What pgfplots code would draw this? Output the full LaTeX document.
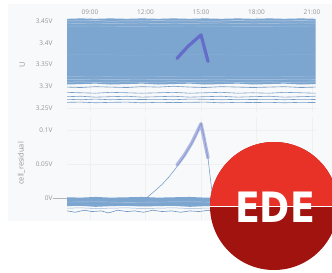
\documentclass[border=0pt]{standalone}
\usepackage{pgfplots}
\pgfplotsset{compat=1.18}
\usepackage{fontspec}
\setmainfont{Open Sans}
\definecolor{bandblue}{RGB}{124,165,207}
\definecolor{lineblue}{RGB}{118,157,200}
\definecolor{darkline}{RGB}{110,148,192}
\definecolor{purp}{RGB}{96,100,200}
\definecolor{tickgray}{RGB}{150,150,150}
\definecolor{panelbg}{RGB}{248,249,250}
\definecolor{edered}{RGB}{232,49,39}
\definecolor{ededark}{RGB}{160,19,15}
\begin{document}
\begin{tikzpicture}
\path[use as bounding box] (0,0) rectangle (332bp,-273bp);
\fill[white] (0,0) rectangle (332bp,-273bp);
\fill[panelbg] (8bp,-4bp) rectangle (332bp,-221bp);
\pgfplotsset{
  every axis/.append style={
    scale only axis, width=249bp,
    xmin=7.757, xmax=21.216,
    axis line style={draw=none},
    tick style={draw=none},
    grid=major, major grid style={gray!12, line width=0.4bp},
    tick label style={font=\fontsize{6.5}{7}\selectfont, text=tickgray},
    label style={font=\fontsize{7.5}{8}\selectfont, text=tickgray},
    /pgf/number format/assume math mode=true,
    clip=true,
  }
}
% ---------- top axis ----------
\begin{axis}[
  at={(67bp,-17bp)}, anchor=north west, height=95bp,
  ymin=3.2408, ymax=3.4592,
  xtick={9,12,15,18,21}, xticklabels={09:00,12:00,15:00,18:00,21:00},
  xticklabel pos=upper, xticklabel style={yshift=-1bp},
  ytick={3.25,3.3,3.35,3.4,3.45},
  yticklabels={3.25V,3.3V,3.35V,3.4V,3.45V},
  yticklabel style={xshift=-11bp},
  ylabel={U}, ylabel style={at={(axis description cs:-0.155,0.5)}},
]
% dense band
\addplot[fill=bandblue, draw=none] coordinates {
(7.76,3.455)(8.5,3.456)(9.3,3.455)(10.1,3.456)(11,3.455)(11.8,3.456)(12.7,3.455)(13.5,3.456)(14.4,3.455)(15.2,3.456)(16.1,3.455)(17,3.456)(17.8,3.455)(18.7,3.456)(19.5,3.455)(20.4,3.456)(21.2,3.455)
(21.2,3.305)(20.4,3.304)(19.5,3.306)(18.7,3.305)(17.8,3.304)(17,3.306)(16.1,3.305)(15.2,3.304)(14.4,3.306)(13.5,3.305)(12.7,3.304)(11.8,3.306)(11,3.305)(10.1,3.304)(9.3,3.306)(8.5,3.305)(7.76,3.304)} -- cycle;
% light streaks
\addplot[white, opacity=0.55, line width=0.5bp] coordinates {
(7.76,3.4505)(8.5,3.450)(9.3,3.451)(10.1,3.4495)(11,3.4505)(11.8,3.450)(12.7,3.451)(13.5,3.450)(14.4,3.4505)(15.2,3.4495)(16.1,3.450)(17,3.451)(17.8,3.450)(18.7,3.4505)(19.5,3.450)(20.4,3.451)(21.2,3.450)};
\addplot[white, opacity=0.4, line width=0.5bp] coordinates {
(7.76,3.445)(8.5,3.4445)(9.3,3.4455)(10.1,3.444)(11,3.445)(11.8,3.4455)(12.7,3.444)(13.5,3.445)(14.4,3.4445)(15.2,3.445)(16.1,3.4455)(17,3.444)(17.8,3.445)(18.7,3.4445)(19.5,3.445)(20.4,3.4455)(21.2,3.445)};
\addplot[white, opacity=0.3, line width=0.4bp] coordinates {
(7.76,3.438)(9.3,3.4385)(11,3.4375)(12.7,3.438)(14.4,3.4385)(16.1,3.438)(17.8,3.4375)(19.5,3.438)(21.2,3.4385)};
\addplot[white, opacity=0.15, line width=0.4bp] coordinates {
(7.76,3.372)(9.3,3.3725)(11,3.3715)(12.7,3.372)(14.4,3.3725)(16.1,3.372)(17.8,3.3715)(19.5,3.372)(21.2,3.3725)};
\addplot[white, opacity=0.4, line width=0.5bp] coordinates {
(7.76,3.316)(8.5,3.3155)(9.3,3.3165)(10.1,3.315)(11,3.316)(11.8,3.3165)(12.7,3.315)(13.5,3.316)(14.4,3.3155)(15.2,3.316)(16.1,3.3165)(17,3.315)(17.8,3.316)(18.7,3.3155)(19.5,3.316)(20.4,3.3165)(21.2,3.316)};
\addplot[white, opacity=0.5, line width=0.5bp] coordinates {
(7.76,3.3095)(8.5,3.310)(9.3,3.309)(10.1,3.3095)(11,3.310)(11.8,3.309)(12.7,3.3095)(13.5,3.310)(14.4,3.309)(15.2,3.3095)(16.1,3.310)(17,3.309)(17.8,3.3095)(18.7,3.310)(19.5,3.309)(20.4,3.3095)(21.2,3.310)};
\addplot[white, opacity=0.25, line width=0.4bp] coordinates {
(7.76,3.322)(9.3,3.3225)(11,3.3215)(12.7,3.322)(14.4,3.3225)(16.1,3.322)(17.8,3.3215)(19.5,3.322)(21.2,3.3225)};
% separate lines below band
\addplot[lineblue, line width=0.6bp] coordinates {
(7.76,3.298)(8.5,3.297)(9.3,3.299)(10.1,3.298)(11,3.297)(11.8,3.299)(12.7,3.298)(13.5,3.300)(14.4,3.298)(15.2,3.297)(16.1,3.299)(17,3.298)(17.8,3.297)(18.7,3.298)(19.5,3.299)(20.4,3.297)(21.2,3.298)};
\addplot[lineblue, line width=0.6bp] coordinates {
(7.76,3.286)(8.5,3.285)(9.3,3.284)(10.1,3.286)(11,3.285)(11.8,3.284)(12.7,3.285)(13.5,3.286)(14.4,3.284)(15.2,3.285)(16.1,3.286)(17,3.284)(17.8,3.285)(18.7,3.284)(19.5,3.286)(20.4,3.285)(21.2,3.284)};
\addplot[lineblue, line width=0.6bp] coordinates {
(7.76,3.276)(8.5,3.277)(9.3,3.275)(10.1,3.276)(11,3.277)(11.8,3.275)(12.7,3.276)(13.5,3.277)(14.4,3.275)(15.2,3.276)(16.1,3.277)(17,3.275)(17.8,3.276)(18.7,3.277)(19.5,3.275)(20.4,3.276)(21.2,3.277)};
\addplot[lineblue, line width=0.6bp] coordinates {
(7.76,3.270)(8.5,3.269)(9.3,3.2705)(10.1,3.269)(11,3.270)(11.8,3.2695)(12.7,3.270)(13.5,3.269)(14.4,3.2705)(15.2,3.270)(16.1,3.269)(17,3.270)(17.8,3.2695)(18.7,3.270)(19.5,3.269)(20.4,3.270)(21.2,3.2695)};
\addplot[lineblue, line width=0.6bp] coordinates {
(7.76,3.263)(8.5,3.2635)(9.3,3.262)(10.1,3.263)(11,3.2635)(11.8,3.262)(12.7,3.263)(13.5,3.2625)(14.4,3.263)(15.2,3.2635)(16.1,3.262)(17,3.263)(17.8,3.2625)(18.7,3.263)(19.5,3.262)(20.4,3.263)(21.2,3.2625)};
% highlighted series
\addplot[purp, opacity=0.85, line width=3.2bp, line join=round, line cap=round] coordinates {
(13.70,3.364)(14.3,3.392)(15.0,3.418)(15.38,3.357)};
\end{axis}
% ---------- bottom axis ----------
\begin{axis}[
  at={(67bp,-117bp)}, anchor=north west, height=103bp,
  ymin=-0.0324, ymax=0.1191,
  xtick={9,12,15,18,21}, xticklabels={},
  ytick={0,0.05,0.1}, yticklabels={0V,0.05V,0.1V},
  yticklabel style={xshift=-11bp},
  extra y ticks={0}, extra y tick labels={},
  extra y tick style={tick style={draw=tickgray!70, line width=0.5bp}, major tick length=14bp, tickpos=left, tick align=outside},
  ylabel={cell\_residual}, ylabel style={at={(axis description cs:-0.155,0.55)}},
]
\addplot[fill=bandblue, draw=none] coordinates {
(7.76,0.001)(8.5,0.0005)(9.3,0.0015)(10.1,0.0005)(11,0.001)(11.8,0.0015)(12.7,0.0005)(13.5,0.001)(14.4,0.0015)(15.2,0.0005)(16.1,0.001)(17,0.0015)(17.8,0.0005)(18.7,0.001)(19.5,0.0015)(20.4,0.0005)(21.2,0.001)
(21.2,-0.012)(20.4,-0.0125)(19.5,-0.0115)(18.7,-0.013)(17.8,-0.012)(17,-0.0115)(16.1,-0.0125)(15.2,-0.012)(14.4,-0.013)(13.5,-0.0115)(12.7,-0.012)(11.8,-0.0125)(11,-0.0115)(10.1,-0.012)(9.3,-0.013)(8.5,-0.0115)(7.76,-0.012)} -- cycle;
\addplot[white, opacity=0.4, line width=0.4bp] coordinates {
(7.76,-0.006)(9.3,-0.0055)(11,-0.0065)(12.7,-0.006)(14.4,-0.0055)(16.1,-0.0065)(17.8,-0.006)(19.5,-0.0055)(21.2,-0.006)};
\addplot[lineblue!70, line width=0.5bp] coordinates {
(7.76,-0.015)(8.5,-0.0145)(9.3,-0.0155)(10.1,-0.015)(11,-0.0145)(11.8,-0.0155)(12.7,-0.015)(13.5,-0.0145)(14.4,-0.0155)(15.2,-0.015)(16.1,-0.0145)(17,-0.0155)(17.8,-0.015)(18.7,-0.0145)(19.5,-0.0155)(20.4,-0.015)(21.2,-0.0145)};
\addplot[darkline, line width=0.6bp] coordinates {
(7.76,-0.019)(8.2,-0.021)(8.7,-0.018)(9.1,-0.020)(9.6,-0.019)(10.0,-0.022)(10.5,-0.018)(11,-0.020)(11.4,-0.019)(11.9,-0.021)(12.4,-0.018)(12.9,-0.020)(13.4,-0.019)(13.9,-0.021)(14.4,-0.019)(14.9,-0.020)(15.4,-0.018)(15.9,-0.021)(16.4,-0.019)(17,-0.020)(17.6,-0.019)(18.2,-0.021)(18.8,-0.019)(19.4,-0.020)(20,-0.019)(20.6,-0.021)(21.2,-0.019)};
% rising line
\addplot[purp, opacity=0.45, line width=3.4bp, line join=round, line cap=round] coordinates {
(13.70,0.0485)(14.1,0.063)(14.5,0.081)(15.0,0.109)(15.38,0.059)};
\addplot[lineblue, line width=0.55bp] coordinates {
(12.05,0.0)(12.4,0.008)(12.9,0.020)(13.3,0.032)(13.7,0.046)(14.1,0.062)(14.5,0.080)(14.8,0.096)(15.0,0.110)(15.2,0.085)(15.38,0.058)(15.5,0.030)(15.6,0.008)(15.7,0.0)};
\end{axis}
% ---------- logo ----------
\begin{scope}
\clip (0,0) rectangle (332bp,-273bp);
\fill[ededark] (274bp,-206bp) circle (64bp);
\begin{scope}
\clip (200bp,-130bp) rectangle (340bp,-206.5bp);
\fill[edered] (274bp,-206bp) circle (64bp);
\end{scope}
\draw[white, line width=0.8bp] (210bp,-206.5bp) -- (338bp,-206.5bp);
\node[text=white, font=\fontspec{DejaVu Sans}\bfseries\fontsize{42}{42}\selectfont, inner sep=0pt, xscale=0.87] at (275bp,-207bp) {EDE};
\end{scope}
\end{tikzpicture}
\end{document}
